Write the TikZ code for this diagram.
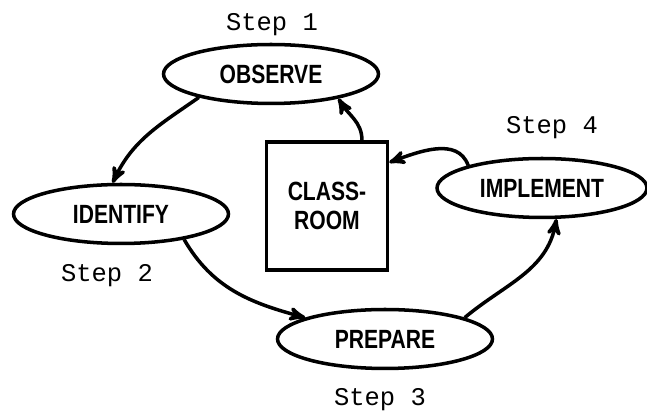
\documentclass[tikz,border=0pt]{standalone}
\usepackage{fontspec}
\usepackage{tikz}
\usetikzlibrary{arrows}
\usetikzlibrary{shapes.geometric}

\newfontfamily\boxfont[FakeStretch=0.8]{Liberation Sans}
\newfontfamily\stepfont{Liberation Mono}

\begin{document}
\begin{tikzpicture}[x=0.02cm, y=0.02cm]
    \tikzset{>=stealth'}
    \tikzset{
        stage/.style={draw, ellipse, line width=2pt, inner sep=0pt,
            minimum width=4.3cm, minimum height=1.18cm,
            font=\boxfont\bfseries\fontsize{15}{16.5}\selectfont},
        steplabel/.style={font=\stepfont\fontsize{14.5}{16}\selectfont},
        flow/.style={->, line width=2pt}
    }

    \useasboundingbox (0, 0) rectangle (647, -411);

    % The four steps
    \node[stage] (observe) at (271, -74) {OBSERVE};
    \node[stage] (identify) at (121, -214) {IDENTIFY};
    \node[stage] (prepare) at (385, -339) {PREPARE};
    \node[stage, minimum width=4.2cm] (implement) at (542, -188) {IMPLEMENT};

    % The classroom in the middle
    \node[draw, line width=2pt, minimum width=2.42cm, minimum height=2.56cm,
        align=center, font=\boxfont\bfseries\fontsize{15}{16.5}\selectfont]
        (room) at (327, -206) {CLASS-\\ROOM};

    % Step labels
    \node[steplabel] (step1) at (272, -25) {Step 1};
    \node[steplabel] (step2) at (107, -276) {Step 2};
    \node[steplabel] (step3) at (380, -400) {Step 3};
    \node[steplabel] (step4) at (552, -128) {Step 4};

    % Draw the cycle
    \draw[flow] (room.62) to[out=90, in=-60] (observe.-20);
    \draw[flow] (observe.198) to[out=215, in=65] (identify.105);
    \draw[flow] (identify.-22) to[out=-60, in=165] (prepare.165);
    \draw[flow] (prepare.15) to[out=40, in=-100] (implement.-65);
    \draw[flow] (implement.163) to[out=110, in=20] (room.35);
\end{tikzpicture}
\end{document}
